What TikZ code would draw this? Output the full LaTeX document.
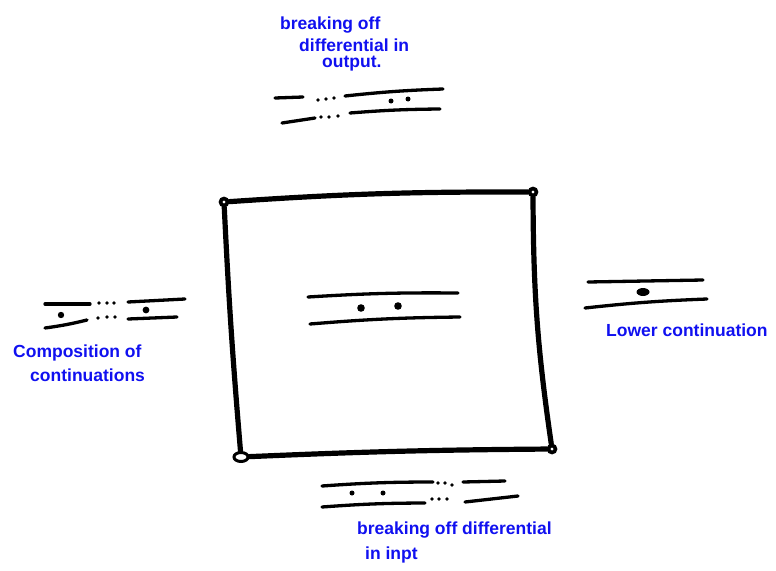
\documentclass[tikz,border=0pt]{standalone}
\usepackage{fontspec}
\setmainfont{Liberation Sans}
\usetikzlibrary{shapes.geometric}
\definecolor{inkblue}{HTML}{1010F0}

\begin{document}
\begin{tikzpicture}[x=1pt,y=-1pt,
   stroke/.style={line width=3.3pt,line cap=round},
   edge/.style={line width=5.2pt,line cap=round},
   corner/.style={draw,circle,line width=3.6pt,inner sep=0pt,minimum size=7pt},
   label/.style={anchor=west,inner sep=0pt,text=inkblue,font=\fontsize{17.5}{20}\selectfont\bfseries}]
  \useasboundingbox (0,0) rectangle (776,570);
  \def\dr{1.9}
  % pixel grid, y downwards; strands drawn as rough strokes

  % ---- big square ----
  \node[corner] (tl) at (224,202) {};
  \node[corner] (tr) at (533,192) {};
  \node[corner,ellipse,line width=3pt,minimum width=14pt,minimum height=9pt] (bl) at (241,457) {};
  \node[corner] (br) at (552,449) {};
  \draw[edge] (tl) to[bend left=2] (tr);
  \draw[edge] (tl) to[bend right=1] (bl);
  \draw[edge] (tr) to[bend right=4] (br);
  \draw[edge] (bl) to[bend left=1] (br);

  % ---- centre : two strands, two dots ----
  \draw[stroke] (308,297) to[bend left=2] (458,293);
  \draw[stroke] (310,324) to[bend left=2] (460,317);
  \fill (361,308) circle (3.8);
  \fill (398,306) circle (3.8);

  % ---- top : output ----
  \draw[stroke] (275,98) -- (303,97);
  \foreach \x/\y in {318/100,326/99,334/98} \fill (\x,\y) circle (\dr);
  \draw[stroke] (345,96) to[bend left=2] (443,89);
  \fill (391,101) circle (2.5);
  \fill (408,99) circle (2.5);
  \draw[stroke] (282,123) -- (315,118);
  \foreach \x/\y in {321/117,329/117,338/116} \fill (\x,\y) circle (\dr);
  \draw[stroke] (350,113) to[bend left=2] (440,109);
  \node[label] (outa) at (280,25) {breaking off};
  \node[label] (outb) at (299,45) {differential in};
  \node[label] (outc) at (322,64) {output.};

  % ---- left : composition ----
  \draw[stroke] (45,304) -- (90,304);
  \foreach \x/\y in {99/303,107/303,114/303} \fill (\x,\y) circle (\dr);
  \draw[stroke] (128,302) -- (185,299);
  \draw[stroke] (45,328) to[bend right=3] (87,320);
  \fill (61,315) circle (3.2);
  \foreach \x/\y in {98/318,107/317,115/317} \fill (\x,\y) circle (\dr);
  \draw[stroke] (128,319) -- (177,317);
  \fill (146,310) circle (3.4);
  \node[label] (compa) at (13,353) {Composition of};
  \node[label] (compb) at (30,375) {continuations};

  % ---- right : lower continuation ----
  \draw[stroke] (588,282) -- (703,280);
  \draw[stroke] (585,308) to[bend left=2] (707,299);
  \fill (643,292) ellipse (6.5 and 4);
  \node[label] (lower) at (606,330) {Lower continuation};

  % ---- bottom : input ----
  \draw[stroke] (322,486) to[bend left=2] (433,482);
  \foreach \x/\y in {438/483,445/483,452/485} \fill (\x,\y) circle (\dr);
  \draw[stroke] (463,482) -- (505,481);
  \fill (352,493) circle (2.5);
  \fill (383,493) circle (2.5);
  \draw[stroke] (322,507) to[bend left=2] (425,503);
  \foreach \x/\y in {432/499,439/499,447/499} \fill (\x,\y) circle (\dr);
  \draw[stroke] (465,502) -- (518,496);
  \node[label] (ina) at (357,530) {breaking off differential};
  \node[label] (inb) at (365,555) {in inpt};
\end{tikzpicture}
\end{document}
